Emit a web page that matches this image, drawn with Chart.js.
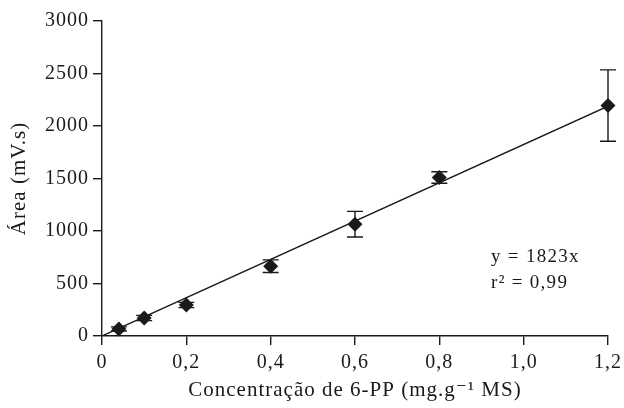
<!DOCTYPE html>
<html>
<head>
<meta charset="utf-8">
<script src="https://cdn.jsdelivr.net/npm/chart.js@4"></script>
<style>
  html, body { margin: 0; padding: 0; background: #fff; }
  #wrap { width: 624px; height: 408px; }
</style>
</head>
<body>
<div id="wrap"><canvas id="curve"></canvas></div>
<script>
// values
const concentrations = [0.04, 0.1, 0.2, 0.4, 0.6, 0.8, 1.2];
const areas = [67, 171, 295, 665, 1065, 1510, 2195];
const errors = [20, 25, 25, 60, 122, 55, 340];

// fitted line y = 1823x, end points
const fitX = [0, 1.2];
const fitY = [0, 2188];

const xTicks = [0, 0.2, 0.4, 0.6, 0.8, 1.0, 1.2];
const yTicks = [0, 500, 1000, 1500, 2000, 2500, 3000];

const serif = "'Liberation Serif', 'DejaVu Serif', serif";
const ink = "#1a1a1a";

// wider letters, closer to the serif of the original
const spacing = {
    id: "spacing",
    beforeLayout(chart) { chart.ctx.letterSpacing = "1px"; },
    beforeDraw(chart) { chart.ctx.letterSpacing = "1px"; }
};

// error bars drawn from the data through the chart scales
const errorBars = {
    id: "errorBars",
    afterDatasetsDraw(chart) {
        const ctx = chart.ctx;
        const xs = chart.scales.x, ys = chart.scales.y;
        ctx.save();
        ctx.strokeStyle = ink;
        ctx.lineWidth = 1.4;
        concentrations.forEach(function (c, i) {
            const px = xs.getPixelForValue(c);
            const top = ys.getPixelForValue(areas[i] + errors[i]);
            const bot = ys.getPixelForValue(areas[i] - errors[i]);
            ctx.beginPath();
            ctx.moveTo(px, top); ctx.lineTo(px, bot);
            ctx.moveTo(px - 8, top); ctx.lineTo(px + 8, top);
            ctx.moveTo(px - 8, bot); ctx.lineTo(px + 8, bot);
            ctx.stroke();
        });
        ctx.restore();
    },
    afterDraw(chart) {
        const ctx = chart.ctx;
        const area = chart.chartArea;
        ctx.save();
        ctx.fillStyle = ink;
        ctx.font = "19px " + serif;
        ctx.letterSpacing = "1.3px";
        ctx.textBaseline = "alphabetic";
        ctx.fillText("y = 1823x", area.right - 117, 262);
        ctx.fillText("r\u00B2 = 0,99", area.right - 117, 288);
        ctx.restore();
    }
};

new Chart(document.getElementById("curve"), {
    type: "scatter",
    data: {
        datasets: [{
            label: "Área",
            data: concentrations.map((c, i) => ({ x: c, y: areas[i] })),
            pointStyle: "rectRot",
            pointRadius: 7.5,
            pointHoverRadius: 7.5,
            backgroundColor: ink,
            borderColor: ink,
            borderWidth: 0,
            clip: false,
            order: 0
        }, {
            label: "Ajuste",
            type: "line",
            data: fitX.map((x, i) => ({ x: x, y: fitY[i] })),
            borderColor: ink,
            borderWidth: 1.4,
            pointRadius: 0,
            fill: false,
            order: 1
        }]
    },
    options: {
        responsive: true,
        maintainAspectRatio: false,
        animation: false,
        layout: { padding: { top: 21, right: 16, left: 0, bottom: 0 } },
        plugins: {
            legend: { display: false },
            tooltip: { enabled: false }
        },
        scales: {
            x: {
                type: "linear",
                min: 0,
                max: 1.2,
                afterBuildTicks: axis => { axis.ticks = xTicks.map(v => ({ value: v })); },
                afterFit: axis => {
                    axis.height = 72;
                    axis.paddingLeft = 0;
                    axis.paddingRight = 0;
                },
                grid: { drawOnChartArea: false, tickLength: 9, color: ink, lineWidth: 1.4 },
                border: { color: ink, width: 1.4 },
                ticks: {
                    color: ink,
                    font: { family: serif, size: 20 },
                    padding: 6,
                    maxRotation: 0,
                    callback: v => v === 0 ? "0" : v.toFixed(1).replace(".", ",")
                },
                title: {
                    display: true,
                    text: "Concentração de 6-PP (mg.g\u207B\u00B9 MS)",
                    color: ink,
                    font: { family: serif, size: 21 },
                    padding: { top: 0, bottom: 5 }
                }
            },
            y: {
                min: 0,
                max: 3000,
                afterBuildTicks: axis => { axis.ticks = yTicks.map(v => ({ value: v })); },
                afterFit: axis => {
                    axis.width = 102;
                    axis.paddingTop = 0;
                    axis.paddingBottom = 0;
                },
                grid: { drawOnChartArea: false, tickLength: 9, color: ink, lineWidth: 1.4 },
                border: { color: ink, width: 1.4 },
                ticks: {
                    color: ink,
                    font: { family: serif, size: 20 },
                    padding: 4,
                    callback: v => String(v)
                },
                title: {
                    display: true,
                    text: "Área (mV.s)",
                    color: ink,
                    font: { family: serif, size: 21 },
                    padding: { top: 7, bottom: 0 }
                }
            }
        }
    },
    plugins: [spacing, errorBars]
});
</script>
</body>
</html>
